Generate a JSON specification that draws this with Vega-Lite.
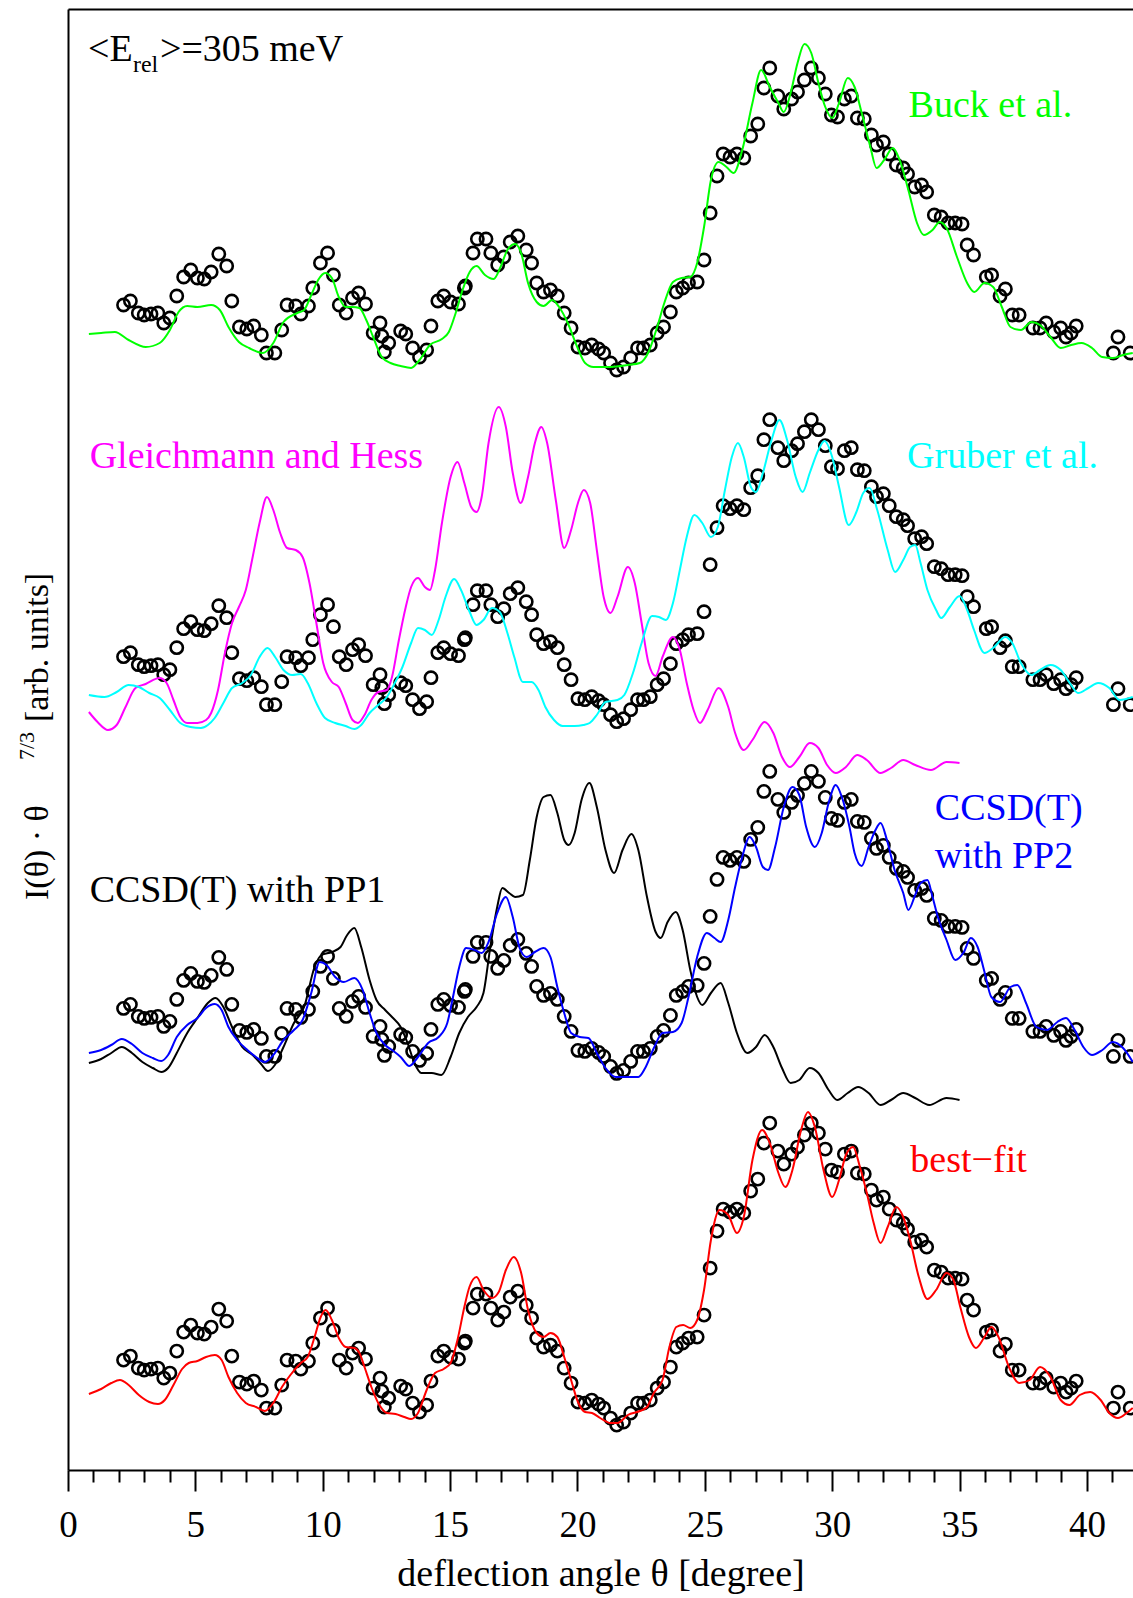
{
"$schema":"https://vega.github.io/schema/vega-lite/v6.json",
"width":1065,"height":1461,
"autosize":{"type":"none"},
"padding":{"left":68,"top":9,"right":0,"bottom":128},
"background":"white",
"config":{"view":{"stroke":null},"font":"Liberation Serif"},
"datasets":{
"exp":[{"x":2.18,"h":1165},{"x":2.45,"h":1169},{"x":2.76,"h":1157},{"x":2.99,"h":1155},{"x":3.26,"h":1156},{"x":3.53,"h":1157},{"x":3.76,"h":1147},{"x":4.0,"h":1152},{"x":4.27,"h":1174},{"x":4.54,"h":1193},{"x":4.82,"h":1200},{"x":5.08,"h":1192},{"x":5.35,"h":1191},{"x":5.62,"h":1198},{"x":5.92,"h":1216},{"x":6.23,"h":1204},{"x":6.43,"h":1169},{"x":6.73,"h":1143},{"x":7.02,"h":1141},{"x":7.29,"h":1144},{"x":7.59,"h":1135},{"x":7.79,"h":1117},{"x":8.12,"h":1117},{"x":8.39,"h":1140},{"x":8.6,"h":1165},{"x":8.94,"h":1164},{"x":9.14,"h":1156},{"x":9.44,"h":1164},{"x":9.61,"h":1182},{"x":9.91,"h":1207},{"x":10.19,"h":1217},{"x":10.42,"h":1195},{"x":10.65,"h":1165},{"x":10.92,"h":1157},{"x":11.17,"h":1172},{"x":11.41,"h":1177},{"x":11.68,"h":1166},{"x":11.98,"h":1137},{"x":12.25,"h":1147},{"x":12.32,"h":1134},{"x":12.42,"h":1118},{"x":12.59,"h":1127},{"x":13.06,"h":1139},{"x":13.26,"h":1136},{"x":13.53,"h":1122},{"x":13.8,"h":1113},{"x":14.08,"h":1120},{"x":14.25,"h":1144},{"x":14.52,"h":1169},{"x":14.75,"h":1174},{"x":15.02,"h":1168},{"x":15.33,"h":1166},{"x":15.56,"h":1182},{"x":15.6,"h":1184},{"x":15.9,"h":1217},{"x":16.07,"h":1231},{"x":16.41,"h":1231},{"x":16.6,"h":1217},{"x":16.87,"h":1205},{"x":17.11,"h":1213},{"x":17.36,"h":1228},{"x":17.66,"h":1234},{"x":17.99,"h":1220},{"x":18.2,"h":1207},{"x":18.4,"h":1187},{"x":18.67,"h":1178},{"x":18.94,"h":1180},{"x":19.21,"h":1174},{"x":19.48,"h":1157},{"x":19.75,"h":1142},{"x":20.02,"h":1123},{"x":20.29,"h":1122},{"x":20.56,"h":1125},{"x":20.83,"h":1121},{"x":21.03,"h":1117},{"x":21.3,"h":1107},{"x":21.54,"h":1100},{"x":21.81,"h":1103},{"x":22.09,"h":1112},{"x":22.36,"h":1122},{"x":22.59,"h":1122},{"x":22.86,"h":1125},{"x":23.13,"h":1137},{"x":23.38,"h":1143},{"x":23.65,"h":1158},{"x":23.88,"h":1178},{"x":24.13,"h":1182},{"x":24.36,"h":1187},{"x":24.7,"h":1188},{"x":24.97,"h":1210},{"x":25.21,"h":1257},{"x":25.48,"h":1294},{"x":25.72,"h":1316},{"x":25.99,"h":1313},{"x":26.26,"h":1316},{"x":26.53,"h":1312},{"x":26.8,"h":1334},{"x":27.08,"h":1346},{"x":27.32,"h":1382},{"x":27.55,"h":1402},{"x":27.87,"h":1374},{"x":28.1,"h":1361},{"x":28.41,"h":1371},{"x":28.64,"h":1378},{"x":28.91,"h":1390},{"x":29.18,"h":1402},{"x":29.46,"h":1392},{"x":29.73,"h":1376},{"x":29.97,"h":1355},{"x":30.21,"h":1353},{"x":30.48,"h":1371},{"x":30.75,"h":1374},{"x":30.99,"h":1352},{"x":31.26,"h":1351},{"x":31.54,"h":1335},{"x":31.74,"h":1325},{"x":32.01,"h":1328},{"x":32.24,"h":1316},{"x":32.52,"h":1305},{"x":32.79,"h":1302},{"x":32.96,"h":1296},{"x":33.24,"h":1283},{"x":33.51,"h":1285},{"x":33.71,"h":1278},{"x":34.01,"h":1255},{"x":34.28,"h":1253},{"x":34.55,"h":1247},{"x":34.83,"h":1247},{"x":35.1,"h":1246},{"x":35.3,"h":1225},{"x":35.55,"h":1215},{"x":36.05,"h":1193},{"x":36.26,"h":1195},{"x":36.59,"h":1174},{"x":36.8,"h":1181},{"x":37.07,"h":1155},{"x":37.34,"h":1155},{"x":37.88,"h":1142},{"x":38.16,"h":1142},{"x":38.4,"h":1147},{"x":38.7,"h":1138},{"x":38.97,"h":1142},{"x":39.18,"h":1133},{"x":39.38,"h":1137},{"x":39.58,"h":1144},{"x":41.04,"h":1117},{"x":41.22,"h":1133},{"x":41.7,"h":1117}],
"buck":[{"x":0.82,"h":1136},{"x":1.3,"h":1137},{"x":1.84,"h":1138},{"x":2.38,"h":1130},{"x":3.05,"h":1123},{"x":3.6,"h":1127},{"x":4.0,"h":1140},{"x":4.34,"h":1158},{"x":4.68,"h":1164},{"x":5.08,"h":1163},{"x":5.62,"h":1165},{"x":5.96,"h":1160},{"x":6.3,"h":1143},{"x":6.71,"h":1128},{"x":7.11,"h":1122},{"x":7.65,"h":1117},{"x":8.06,"h":1127},{"x":8.46,"h":1148},{"x":9.0,"h":1157},{"x":9.27,"h":1160},{"x":9.55,"h":1175},{"x":9.82,"h":1190},{"x":10.09,"h":1197},{"x":10.36,"h":1192},{"x":10.63,"h":1173},{"x":10.9,"h":1163},{"x":11.17,"h":1163},{"x":11.44,"h":1162},{"x":11.71,"h":1150},{"x":11.98,"h":1133},{"x":12.32,"h":1113},{"x":12.66,"h":1107},{"x":13.06,"h":1104},{"x":13.47,"h":1102},{"x":13.8,"h":1110},{"x":14.21,"h":1125},{"x":14.68,"h":1131},{"x":14.95,"h":1138},{"x":15.22,"h":1157},{"x":15.49,"h":1180},{"x":15.77,"h":1198},{"x":16.04,"h":1204},{"x":16.37,"h":1195},{"x":16.71,"h":1191},{"x":16.98,"h":1203},{"x":17.25,"h":1220},{"x":17.55,"h":1226},{"x":17.79,"h":1217},{"x":18.06,"h":1187},{"x":18.4,"h":1168},{"x":18.67,"h":1164},{"x":19.01,"h":1170},{"x":19.28,"h":1163},{"x":19.62,"h":1147},{"x":19.96,"h":1125},{"x":20.3,"h":1107},{"x":20.63,"h":1103},{"x":21.3,"h":1103},{"x":21.98,"h":1105},{"x":22.45,"h":1107},{"x":22.79,"h":1118},{"x":23.13,"h":1143},{"x":23.41,"h":1167},{"x":23.75,"h":1188},{"x":24.09,"h":1192},{"x":24.43,"h":1193},{"x":24.7,"h":1207},{"x":24.97,"h":1243},{"x":25.24,"h":1290},{"x":25.54,"h":1308},{"x":25.85,"h":1303},{"x":26.13,"h":1297},{"x":26.47,"h":1320},{"x":26.87,"h":1367},{"x":27.21,"h":1400},{"x":27.55,"h":1383},{"x":27.89,"h":1367},{"x":28.1,"h":1358},{"x":28.37,"h":1377},{"x":28.64,"h":1407},{"x":28.91,"h":1426},{"x":29.18,"h":1417},{"x":29.46,"h":1387},{"x":29.73,"h":1363},{"x":30.0,"h":1352},{"x":30.27,"h":1367},{"x":30.61,"h":1392},{"x":30.88,"h":1383},{"x":31.16,"h":1357},{"x":31.5,"h":1323},{"x":31.74,"h":1302},{"x":32.04,"h":1310},{"x":32.38,"h":1322},{"x":32.65,"h":1310},{"x":32.99,"h":1280},{"x":33.33,"h":1247},{"x":33.6,"h":1235},{"x":33.94,"h":1240},{"x":34.22,"h":1248},{"x":34.49,"h":1242},{"x":34.9,"h":1213},{"x":35.3,"h":1187},{"x":35.58,"h":1178},{"x":35.98,"h":1187},{"x":36.32,"h":1183},{"x":36.66,"h":1163},{"x":37.0,"h":1143},{"x":37.41,"h":1140},{"x":37.82,"h":1148},{"x":38.16,"h":1145},{"x":38.57,"h":1133},{"x":38.97,"h":1122},{"x":39.38,"h":1125},{"x":39.79,"h":1127},{"x":40.2,"h":1122},{"x":40.6,"h":1113},{"x":41.01,"h":1112},{"x":41.42,"h":1115},{"x":41.8,"h":1117}],
"gh":[{"x":0.82,"h":758},{"x":1.16,"h":748},{"x":1.57,"h":740},{"x":1.91,"h":745},{"x":2.24,"h":762},{"x":2.65,"h":782},{"x":3.05,"h":786},{"x":3.59,"h":792},{"x":3.87,"h":787},{"x":4.14,"h":770},{"x":4.41,"h":753},{"x":4.68,"h":747},{"x":5.08,"h":747},{"x":5.42,"h":750},{"x":5.62,"h":757},{"x":5.89,"h":780},{"x":6.16,"h":817},{"x":6.44,"h":847},{"x":6.71,"h":863},{"x":6.98,"h":880},{"x":7.25,"h":913},{"x":7.52,"h":947},{"x":7.81,"h":973},{"x":8.06,"h":960},{"x":8.33,"h":937},{"x":8.6,"h":922},{"x":8.94,"h":920},{"x":9.21,"h":913},{"x":9.48,"h":887},{"x":9.75,"h":847},{"x":10.02,"h":807},{"x":10.36,"h":788},{"x":10.63,"h":783},{"x":10.9,"h":767},{"x":11.17,"h":750},{"x":11.38,"h":747},{"x":11.64,"h":755},{"x":11.91,"h":770},{"x":12.18,"h":778},{"x":12.52,"h":780},{"x":12.72,"h":793},{"x":12.99,"h":830},{"x":13.26,"h":863},{"x":13.47,"h":883},{"x":13.74,"h":892},{"x":14.01,"h":883},{"x":14.21,"h":880},{"x":14.41,"h":900},{"x":14.68,"h":947},{"x":15.02,"h":993},{"x":15.29,"h":1008},{"x":15.56,"h":987},{"x":15.83,"h":963},{"x":16.04,"h":958},{"x":16.24,"h":973},{"x":16.51,"h":1027},{"x":16.91,"h":1063},{"x":17.19,"h":1043},{"x":17.46,"h":997},{"x":17.77,"h":967},{"x":18.06,"h":993},{"x":18.33,"h":1027},{"x":18.58,"h":1043},{"x":18.81,"h":1027},{"x":19.15,"h":970},{"x":19.48,"h":922},{"x":19.75,"h":940},{"x":20.02,"h":967},{"x":20.25,"h":980},{"x":20.5,"h":967},{"x":20.76,"h":920},{"x":21.03,"h":873},{"x":21.3,"h":857},{"x":21.57,"h":873},{"x":21.98,"h":903},{"x":22.25,"h":887},{"x":22.52,"h":847},{"x":22.79,"h":807},{"x":23.07,"h":794},{"x":23.34,"h":813},{"x":23.75,"h":833},{"x":24.02,"h":820},{"x":24.29,"h":787},{"x":24.56,"h":760},{"x":24.81,"h":747},{"x":25.11,"h":760},{"x":25.54,"h":782},{"x":25.92,"h":763},{"x":26.19,"h":737},{"x":26.53,"h":720},{"x":26.87,"h":730},{"x":27.35,"h":748},{"x":27.69,"h":737},{"x":28.03,"h":713},{"x":28.34,"h":703},{"x":28.71,"h":713},{"x":29.12,"h":727},{"x":29.46,"h":722},{"x":29.8,"h":705},{"x":30.14,"h":697},{"x":30.54,"h":703},{"x":30.98,"h":715},{"x":31.36,"h":710},{"x":31.9,"h":697},{"x":32.31,"h":702},{"x":32.79,"h":710},{"x":33.26,"h":705},{"x":33.88,"h":700},{"x":34.49,"h":708},{"x":35.0,"h":707}],
"gr":[{"x":0.82,"h":775},{"x":1.43,"h":773},{"x":1.91,"h":778},{"x":2.38,"h":785},{"x":2.78,"h":783},{"x":3.19,"h":777},{"x":3.6,"h":772},{"x":4.0,"h":760},{"x":4.41,"h":747},{"x":4.81,"h":743},{"x":5.22,"h":742},{"x":5.49,"h":745},{"x":5.76,"h":752},{"x":6.1,"h":767},{"x":6.44,"h":782},{"x":6.84,"h":787},{"x":7.18,"h":795},{"x":7.52,"h":813},{"x":7.83,"h":822},{"x":8.13,"h":813},{"x":8.46,"h":800},{"x":8.8,"h":795},{"x":9.14,"h":796},{"x":9.41,"h":787},{"x":9.75,"h":767},{"x":10.09,"h":752},{"x":10.49,"h":747},{"x":10.9,"h":744},{"x":11.24,"h":741},{"x":11.51,"h":745},{"x":11.84,"h":757},{"x":12.18,"h":765},{"x":12.52,"h":773},{"x":12.79,"h":785},{"x":13.13,"h":803},{"x":13.47,"h":827},{"x":13.74,"h":842},{"x":14.01,"h":840},{"x":14.28,"h":835},{"x":14.55,"h":850},{"x":14.82,"h":873},{"x":15.16,"h":891},{"x":15.43,"h":880},{"x":15.77,"h":858},{"x":16.04,"h":845},{"x":16.31,"h":850},{"x":16.64,"h":862},{"x":16.95,"h":858},{"x":17.25,"h":837},{"x":17.52,"h":813},{"x":17.86,"h":788},{"x":18.2,"h":788},{"x":18.47,"h":780},{"x":18.74,"h":763},{"x":19.08,"h":750},{"x":19.42,"h":744},{"x":19.89,"h":744},{"x":20.23,"h":745},{"x":20.48,"h":747},{"x":20.76,"h":755},{"x":21.1,"h":768},{"x":21.57,"h":770},{"x":21.84,"h":775},{"x":22.18,"h":797},{"x":22.52,"h":827},{"x":22.93,"h":854},{"x":23.2,"h":853},{"x":23.47,"h":850},{"x":23.75,"h":867},{"x":24.02,"h":900},{"x":24.29,"h":933},{"x":24.59,"h":955},{"x":24.9,"h":947},{"x":25.24,"h":933},{"x":25.51,"h":943},{"x":25.79,"h":980},{"x":26.06,"h":1013},{"x":26.3,"h":1027},{"x":26.53,"h":1013},{"x":26.81,"h":983},{"x":27.01,"h":978},{"x":27.28,"h":997},{"x":27.62,"h":1030},{"x":27.93,"h":1050},{"x":28.23,"h":1030},{"x":28.57,"h":993},{"x":28.84,"h":978},{"x":29.12,"h":997},{"x":29.46,"h":1020},{"x":29.7,"h":1029},{"x":30.0,"h":1013},{"x":30.27,"h":983},{"x":30.65,"h":945},{"x":30.95,"h":958},{"x":31.22,"h":977},{"x":31.47,"h":982},{"x":31.77,"h":960},{"x":32.18,"h":920},{"x":32.47,"h":898},{"x":32.79,"h":910},{"x":33.06,"h":923},{"x":33.26,"h":925},{"x":33.47,"h":907},{"x":33.74,"h":880},{"x":34.08,"h":860},{"x":34.28,"h":852},{"x":34.62,"h":863},{"x":35.0,"h":874},{"x":35.3,"h":860},{"x":35.57,"h":840},{"x":35.98,"h":817},{"x":36.32,"h":822},{"x":36.8,"h":833},{"x":37.07,"h":827},{"x":37.41,"h":807},{"x":37.82,"h":795},{"x":38.16,"h":800},{"x":38.57,"h":805},{"x":38.97,"h":800},{"x":39.38,"h":785},{"x":39.65,"h":777},{"x":40.06,"h":782},{"x":40.44,"h":787},{"x":40.88,"h":782},{"x":41.28,"h":770},{"x":41.8,"h":773}],
"pp1":[{"x":0.82,"h":407},{"x":1.3,"h":411},{"x":1.7,"h":417},{"x":2.11,"h":423},{"x":2.51,"h":417},{"x":2.92,"h":408},{"x":3.33,"h":402},{"x":3.66,"h":398},{"x":3.93,"h":402},{"x":4.27,"h":417},{"x":4.68,"h":437},{"x":5.08,"h":452},{"x":5.49,"h":467},{"x":5.79,"h":472},{"x":6.1,"h":463},{"x":6.44,"h":443},{"x":6.84,"h":423},{"x":7.25,"h":415},{"x":7.58,"h":406},{"x":7.85,"h":399},{"x":8.12,"h":405},{"x":8.46,"h":423},{"x":8.87,"h":447},{"x":9.27,"h":463},{"x":9.68,"h":503},{"x":9.95,"h":515},{"x":10.36,"h":518},{"x":10.7,"h":523},{"x":10.96,"h":535},{"x":11.24,"h":542},{"x":11.51,"h":523},{"x":11.84,"h":490},{"x":12.11,"h":470},{"x":12.45,"h":460},{"x":12.72,"h":453},{"x":13.06,"h":443},{"x":13.33,"h":427},{"x":13.6,"h":407},{"x":13.87,"h":397},{"x":14.28,"h":397},{"x":14.66,"h":395},{"x":15.02,"h":413},{"x":15.36,"h":437},{"x":15.7,"h":453},{"x":16.04,"h":463},{"x":16.31,"h":477},{"x":16.58,"h":523},{"x":16.85,"h":563},{"x":17.05,"h":582},{"x":17.32,"h":577},{"x":17.55,"h":573},{"x":17.86,"h":575},{"x":18.13,"h":610},{"x":18.4,"h":653},{"x":18.67,"h":673},{"x":18.94,"h":675},{"x":19.21,"h":657},{"x":19.48,"h":630},{"x":19.66,"h":625},{"x":19.89,"h":637},{"x":20.16,"h":670},{"x":20.47,"h":687},{"x":20.76,"h":663},{"x":21.1,"h":620},{"x":21.44,"h":597},{"x":21.77,"h":620},{"x":22.12,"h":636},{"x":22.39,"h":620},{"x":22.73,"h":573},{"x":23.07,"h":538},{"x":23.27,"h":532},{"x":23.54,"h":548},{"x":23.86,"h":558},{"x":24.13,"h":540},{"x":24.43,"h":500},{"x":24.7,"h":473},{"x":24.9,"h":465},{"x":25.24,"h":477},{"x":25.62,"h":487},{"x":25.92,"h":467},{"x":26.26,"h":437},{"x":26.67,"h":417},{"x":27.01,"h":423},{"x":27.35,"h":435},{"x":27.69,"h":423},{"x":28.03,"h":402},{"x":28.37,"h":387},{"x":28.71,"h":390},{"x":29.12,"h":402},{"x":29.46,"h":397},{"x":29.86,"h":380},{"x":30.2,"h":370},{"x":30.61,"h":377},{"x":31.02,"h":383},{"x":31.43,"h":377},{"x":31.9,"h":365},{"x":32.31,"h":370},{"x":32.79,"h":377},{"x":33.26,"h":372},{"x":33.81,"h":365},{"x":34.49,"h":372},{"x":35.0,"h":370}],
"pp2":[{"x":0.82,"h":417},{"x":1.3,"h":420},{"x":1.7,"h":425},{"x":2.11,"h":431},{"x":2.51,"h":426},{"x":2.92,"h":417},{"x":3.33,"h":412},{"x":3.66,"h":409},{"x":3.93,"h":415},{"x":4.27,"h":433},{"x":4.68,"h":445},{"x":5.08,"h":452},{"x":5.42,"h":462},{"x":5.76,"h":466},{"x":6.03,"h":460},{"x":6.3,"h":443},{"x":6.64,"h":430},{"x":7.04,"h":420},{"x":7.38,"h":413},{"x":7.72,"h":408},{"x":8.06,"h":415},{"x":8.46,"h":430},{"x":8.87,"h":440},{"x":9.21,"h":450},{"x":9.55,"h":477},{"x":9.88,"h":508},{"x":10.15,"h":505},{"x":10.49,"h":493},{"x":10.83,"h":488},{"x":11.24,"h":492},{"x":11.57,"h":480},{"x":11.84,"h":457},{"x":12.11,"h":437},{"x":12.45,"h":425},{"x":12.72,"h":420},{"x":13.06,"h":413},{"x":13.4,"h":404},{"x":13.74,"h":413},{"x":14.14,"h":427},{"x":14.55,"h":433},{"x":14.89,"h":447},{"x":15.09,"h":470},{"x":15.36,"h":503},{"x":15.63,"h":522},{"x":15.97,"h":520},{"x":16.24,"h":517},{"x":16.51,"h":528},{"x":16.85,"h":557},{"x":17.19,"h":573},{"x":17.46,"h":553},{"x":17.73,"h":522},{"x":18.0,"h":513},{"x":18.33,"h":518},{"x":18.67,"h":522},{"x":18.94,"h":513},{"x":19.21,"h":483},{"x":19.48,"h":457},{"x":19.75,"h":437},{"x":20.09,"h":433},{"x":20.43,"h":432},{"x":20.76,"h":417},{"x":21.1,"h":402},{"x":21.5,"h":393},{"x":21.91,"h":393},{"x":22.39,"h":393},{"x":22.66,"h":402},{"x":23.0,"h":422},{"x":23.34,"h":437},{"x":23.75,"h":438},{"x":24.09,"h":447},{"x":24.36,"h":473},{"x":24.7,"h":513},{"x":25.08,"h":537},{"x":25.38,"h":532},{"x":25.62,"h":528},{"x":25.92,"h":550},{"x":26.19,"h":583},{"x":26.47,"h":613},{"x":26.76,"h":633},{"x":27.01,"h":623},{"x":27.28,"h":603},{"x":27.48,"h":600},{"x":27.76,"h":623},{"x":28.1,"h":663},{"x":28.44,"h":683},{"x":28.71,"h":675},{"x":28.98,"h":643},{"x":29.32,"h":623},{"x":29.59,"h":637},{"x":29.86,"h":667},{"x":30.14,"h":685},{"x":30.38,"h":673},{"x":30.68,"h":643},{"x":30.88,"h":617},{"x":31.16,"h":604},{"x":31.43,"h":623},{"x":31.7,"h":640},{"x":31.9,"h":647},{"x":32.15,"h":630},{"x":32.45,"h":600},{"x":32.79,"h":577},{"x":32.99,"h":560},{"x":33.26,"h":575},{"x":33.47,"h":587},{"x":33.74,"h":590},{"x":33.94,"h":573},{"x":34.15,"h":553},{"x":34.49,"h":530},{"x":34.83,"h":510},{"x":35.17,"h":518},{"x":35.44,"h":532},{"x":35.71,"h":523},{"x":35.98,"h":498},{"x":36.25,"h":473},{"x":36.59,"h":468},{"x":37.0,"h":483},{"x":37.27,"h":485},{"x":37.61,"h":467},{"x":38.02,"h":443},{"x":38.43,"h":440},{"x":38.84,"h":448},{"x":39.18,"h":452},{"x":39.52,"h":440},{"x":39.86,"h":423},{"x":40.2,"h":415},{"x":40.61,"h":420},{"x":41.01,"h":428},{"x":41.42,"h":422},{"x":41.8,"h":408}],
"bf":[{"x":0.82,"h":76},{"x":1.3,"h":81},{"x":1.7,"h":87},{"x":2.04,"h":90},{"x":2.38,"h":85},{"x":2.78,"h":75},{"x":3.19,"h":68},{"x":3.53,"h":66},{"x":3.8,"h":70},{"x":4.14,"h":85},{"x":4.48,"h":101},{"x":4.74,"h":107},{"x":5.08,"h":109},{"x":5.42,"h":113},{"x":5.76,"h":115},{"x":6.03,"h":110},{"x":6.3,"h":93},{"x":6.64,"h":77},{"x":6.98,"h":67},{"x":7.38,"h":63},{"x":7.72,"h":59},{"x":8.06,"h":67},{"x":8.4,"h":83},{"x":8.73,"h":95},{"x":9.14,"h":107},{"x":9.41,"h":113},{"x":9.68,"h":133},{"x":9.92,"h":153},{"x":10.11,"h":160},{"x":10.36,"h":150},{"x":10.63,"h":132},{"x":10.9,"h":123},{"x":11.24,"h":122},{"x":11.44,"h":117},{"x":11.64,"h":103},{"x":11.91,"h":83},{"x":12.18,"h":67},{"x":12.52,"h":57},{"x":12.86,"h":56},{"x":13.2,"h":53},{"x":13.47,"h":51},{"x":13.74,"h":57},{"x":14.08,"h":80},{"x":14.41,"h":97},{"x":14.75,"h":101},{"x":15.02,"h":107},{"x":15.29,"h":130},{"x":15.56,"h":163},{"x":15.76,"h":183},{"x":16.04,"h":193},{"x":16.31,"h":180},{"x":16.64,"h":172},{"x":16.91,"h":178},{"x":17.19,"h":200},{"x":17.5,"h":213},{"x":17.79,"h":197},{"x":18.06,"h":160},{"x":18.4,"h":137},{"x":18.67,"h":133},{"x":18.94,"h":137},{"x":19.21,"h":133},{"x":19.48,"h":113},{"x":19.75,"h":90},{"x":20.02,"h":68},{"x":20.3,"h":58},{"x":20.57,"h":57},{"x":20.89,"h":52},{"x":21.3,"h":47},{"x":21.57,"h":47},{"x":21.98,"h":55},{"x":22.45,"h":59},{"x":22.73,"h":63},{"x":23.0,"h":77},{"x":23.34,"h":90},{"x":23.61,"h":123},{"x":23.88,"h":143},{"x":24.15,"h":145},{"x":24.43,"h":142},{"x":24.7,"h":150},{"x":24.97,"h":180},{"x":25.24,"h":230},{"x":25.58,"h":260},{"x":25.92,"h":255},{"x":26.26,"h":237},{"x":26.53,"h":253},{"x":26.87,"h":310},{"x":27.25,"h":340},{"x":27.55,"h":327},{"x":27.89,"h":297},{"x":28.16,"h":283},{"x":28.44,"h":300},{"x":28.78,"h":340},{"x":29.05,"h":358},{"x":29.32,"h":343},{"x":29.66,"h":300},{"x":30.0,"h":273},{"x":30.27,"h":290},{"x":30.54,"h":315},{"x":30.82,"h":323},{"x":31.09,"h":303},{"x":31.36,"h":277},{"x":31.63,"h":247},{"x":31.9,"h":227},{"x":32.18,"h":243},{"x":32.52,"h":263},{"x":32.79,"h":253},{"x":33.06,"h":230},{"x":33.4,"h":193},{"x":33.74,"h":171},{"x":34.08,"h":180},{"x":34.49,"h":197},{"x":34.76,"h":190},{"x":35.03,"h":163},{"x":35.37,"h":133},{"x":35.64,"h":122},{"x":35.98,"h":133},{"x":36.25,"h":143},{"x":36.53,"h":133},{"x":36.94,"h":103},{"x":37.34,"h":87},{"x":37.75,"h":90},{"x":38.16,"h":103},{"x":38.57,"h":93},{"x":38.97,"h":70},{"x":39.31,"h":65},{"x":39.72,"h":75},{"x":40.13,"h":78},{"x":40.54,"h":70},{"x":40.88,"h":57},{"x":41.22,"h":52},{"x":41.56,"h":57},{"x":41.8,"h":62}],
"labels":[{"t":"Buck et al.","x":33.0,"h":1353,"s":"Buck"},{"t":"Gleichmann and Hess","x":0.85,"h":1002,"s":"GH"},{"t":"Gruber et al.","x":32.94,"h":1002,"s":"Gruber"},{"t":"CCSD(T) with PP1","x":0.85,"h":568,"s":"PP1"},{"t":"CCSD(T)","x":34.03,"h":650,"s":"PP2"},{"t":"with PP2","x":34.03,"h":602,"s":"PP2"},{"t":"best−fit","x":33.07,"h":298,"s":"fit"},{"t":"<E","x":0.785,"h":1409,"s":"E"},{"t":">=305 meV","x":3.61,"h":1409,"s":"E"}],
"sub":[{"t":"rel","x":2.55,"h":1398}],
"ytitle":[{"t":"I(θ)   ·   θ","x":-1.18,"h":570},{"t":"[arb. units]","x":-1.18,"h":748}],
"ysup":[{"t":"7/3","x":-1.6,"h":710}]
},
"resolve":{"scale":{"y":"independent"},"axis":{"x":"independent","y":"independent"}},
"layer":[
{"data":{"name":"exp"},"mark":{"type":"point","shape":"circle","filled":false,"color":"black","strokeWidth":2.6,"size":150,"opacity":1},
 "encoding":{"x":{"field":"x","type":"quantitative","scale":{"domain":[0,41.81],"nice":false,"zero":false},
   "axis":{"orient":"bottom","values":[0,1,2,3,4,5,6,7,8,9,10,11,12,13,14,15,16,17,18,19,20,21,22,23,24,25,26,27,28,29,30,31,32,33,34,35,36,37,38,39,40,41],"format":"d",
   "labelExpr":"datum.value % 5 === 0 ? datum.label : ''",
   "tickSize":{"condition":{"test":"datum.value % 5 === 0","value":21},"value":12},
   "tickWidth":2,"tickColor":"black","domainColor":"black","domainWidth":2,
   "labelFont":"Liberation Serif","labelFontSize":37,"labelColor":"black","labelPadding":16,"labelFlush":false,"labelOverlap":false,"labelBound":false,
   "title":"deflection angle θ [degree]","titleFont":"Liberation Serif","titleFontSize":38,"titleFontWeight":"normal","titleColor":"black","titlePadding":12,"grid":false}},
  "y":{"field":"h","type":"quantitative","scale":{"domain":[0,1461],"nice":false,"zero":false},
   "axis":{"domain":true,"domainColor":"black","domainWidth":2,"ticks":false,"labels":false,"title":null,"grid":false}}}},
{"data":{"name":"exp"},"mark":{"type":"point","shape":"circle","filled":false,"color":"black","strokeWidth":2.6,"size":150,"opacity":1},
 "encoding":{"x":{"field":"x","type":"quantitative","scale":{"domain":[0,41.81],"nice":false,"zero":false},
   "axis":{"orient":"top","domain":true,"domainColor":"black","domainWidth":2,"ticks":false,"labels":false,"title":null,"grid":false}},
  "y":{"field":"h","type":"quantitative","scale":{"domain":[351.7,1812.7],"nice":false,"zero":false},"axis":null}}},
{"data":{"name":"exp"},"mark":{"type":"point","shape":"circle","filled":false,"color":"black","strokeWidth":2.6,"size":150,"opacity":1},
 "encoding":{"x":{"field":"x","type":"quantitative","scale":{"domain":[0,41.81],"nice":false,"zero":false},"axis":null},
  "y":{"field":"h","type":"quantitative","scale":{"domain":[703.4,2164.4],"nice":false,"zero":false},"axis":null}}},
{"data":{"name":"exp"},"mark":{"type":"point","shape":"circle","filled":false,"color":"black","strokeWidth":2.6,"size":150,"opacity":1},
 "encoding":{"x":{"field":"x","type":"quantitative","scale":{"domain":[0,41.81],"nice":false,"zero":false},"axis":null},
  "y":{"field":"h","type":"quantitative","scale":{"domain":[1055.1,2516.1],"nice":false,"zero":false},"axis":null}}},
{"data":{"name":"buck"},"mark":{"type":"line","color":"#00ff00","strokeWidth":2,"interpolate":"monotone"},
 "encoding":{"x":{"field":"x","type":"quantitative","scale":{"domain":[0,41.81],"nice":false,"zero":false},"axis":null},
  "y":{"field":"h","type":"quantitative","scale":{"domain":[0,1461],"nice":false,"zero":false},"axis":null}}},
{"data":{"name":"gh"},"mark":{"type":"line","color":"#ff00ff","strokeWidth":2,"interpolate":"monotone"},
 "encoding":{"x":{"field":"x","type":"quantitative","scale":{"domain":[0,41.81],"nice":false,"zero":false},"axis":null},
  "y":{"field":"h","type":"quantitative","scale":{"domain":[0,1461],"nice":false,"zero":false},"axis":null}}},
{"data":{"name":"gr"},"mark":{"type":"line","color":"#00ffff","strokeWidth":2,"interpolate":"monotone"},
 "encoding":{"x":{"field":"x","type":"quantitative","scale":{"domain":[0,41.81],"nice":false,"zero":false},"axis":null},
  "y":{"field":"h","type":"quantitative","scale":{"domain":[0,1461],"nice":false,"zero":false},"axis":null}}},
{"data":{"name":"pp1"},"mark":{"type":"line","color":"#000000","strokeWidth":2,"interpolate":"monotone"},
 "encoding":{"x":{"field":"x","type":"quantitative","scale":{"domain":[0,41.81],"nice":false,"zero":false},"axis":null},
  "y":{"field":"h","type":"quantitative","scale":{"domain":[0,1461],"nice":false,"zero":false},"axis":null}}},
{"data":{"name":"pp2"},"mark":{"type":"line","color":"#0000ff","strokeWidth":2,"interpolate":"monotone"},
 "encoding":{"x":{"field":"x","type":"quantitative","scale":{"domain":[0,41.81],"nice":false,"zero":false},"axis":null},
  "y":{"field":"h","type":"quantitative","scale":{"domain":[0,1461],"nice":false,"zero":false},"axis":null}}},
{"data":{"name":"bf"},"mark":{"type":"line","color":"#ff0000","strokeWidth":2,"interpolate":"monotone"},
 "encoding":{"x":{"field":"x","type":"quantitative","scale":{"domain":[0,41.81],"nice":false,"zero":false},"axis":null},
  "y":{"field":"h","type":"quantitative","scale":{"domain":[0,1461],"nice":false,"zero":false},"axis":null}}},
{"data":{"name":"labels"},"mark":{"type":"text","align":"left","baseline":"alphabetic","font":"Liberation Serif","fontSize":38},
 "encoding":{"x":{"field":"x","type":"quantitative","scale":{"domain":[0,41.81],"nice":false,"zero":false},"axis":null},
  "y":{"field":"h","type":"quantitative","scale":{"domain":[0,1461],"nice":false,"zero":false},"axis":null},
  "text":{"field":"t"},
  "color":{"field":"s","type":"nominal","scale":{"domain":["Buck","GH","Gruber","PP1","PP2","fit","E"],"range":["#00ff00","#ff00ff","#00ffff","#000000","#0000ff","#ff0000","#000000"]},"legend":null}}},
{"data":{"name":"sub"},"mark":{"type":"text","align":"left","baseline":"alphabetic","font":"Liberation Serif","fontSize":24,"color":"black"},
 "encoding":{"x":{"field":"x","type":"quantitative","scale":{"domain":[0,41.81],"nice":false,"zero":false},"axis":null},
  "y":{"field":"h","type":"quantitative","scale":{"domain":[0,1461],"nice":false,"zero":false},"axis":null},
  "text":{"field":"t"}}},
{"data":{"name":"ytitle"},"mark":{"type":"text","align":"left","baseline":"middle","angle":270,"font":"Liberation Serif","fontSize":34,"color":"black"},
 "encoding":{"x":{"field":"x","type":"quantitative","scale":{"domain":[0,41.81],"nice":false,"zero":false},"axis":null},
  "y":{"field":"h","type":"quantitative","scale":{"domain":[0,1461],"nice":false,"zero":false},"axis":null},
  "text":{"field":"t"}}},
{"data":{"name":"ysup"},"mark":{"type":"text","align":"left","baseline":"middle","angle":270,"font":"Liberation Serif","fontSize":22,"color":"black"},
 "encoding":{"x":{"field":"x","type":"quantitative","scale":{"domain":[0,41.81],"nice":false,"zero":false},"axis":null},
  "y":{"field":"h","type":"quantitative","scale":{"domain":[0,1461],"nice":false,"zero":false},"axis":null},
  "text":{"field":"t"}}}
]
}
